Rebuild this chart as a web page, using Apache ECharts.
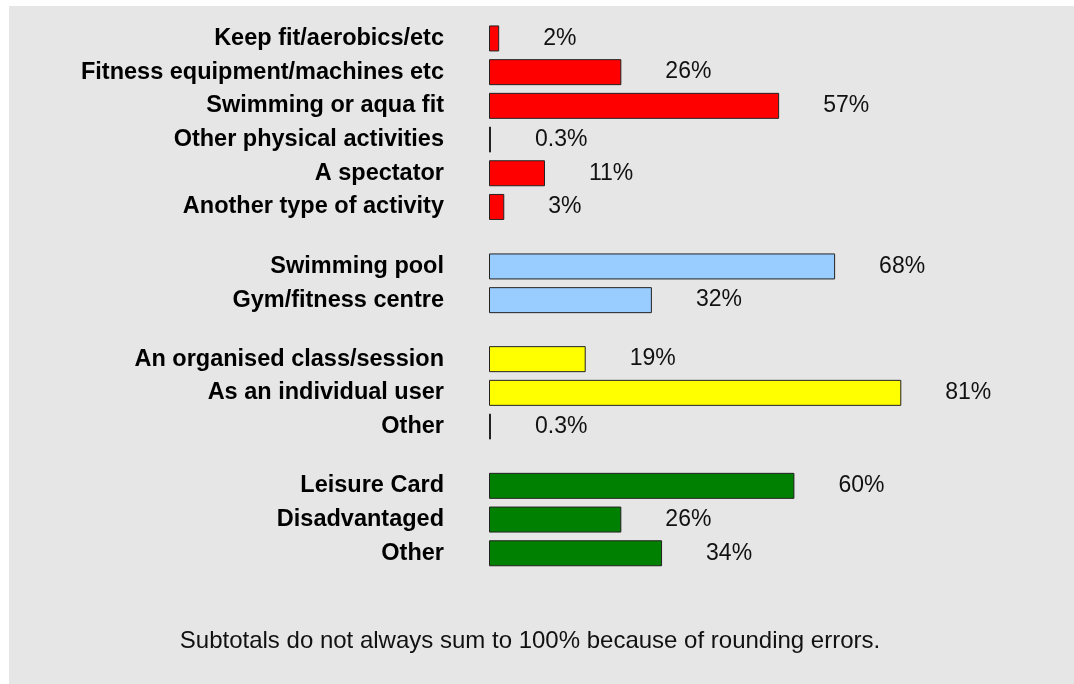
<!DOCTYPE html>
<html>
<head>
<meta charset="utf-8">
<title>Use of facilities</title>
<script src="https://cdn.jsdelivr.net/npm/echarts@6/dist/echarts.min.js"></script>
<style>
  html, body { margin: 0; padding: 0; background: #fff; }
  #chart { width: 1074px; height: 684px; }
</style>
</head>
<body>
<div id="chart"></div>
<script>
// groups of the chart, top to bottom
var activityNames = ['Keep fit/aerobics/etc', 'Fitness equipment/machines etc', 'Swimming or aqua fit', 'Other physical activities', 'A spectator', 'Another type of activity']
var activityValues = [2, 26, 57, 0.3, 11, 3]

var facilityNames = ['Swimming pool', 'Gym/fitness centre']
var facilityValues = [68, 32]

var userNames = ['An organised class/session', 'As an individual user', 'Other']
var userValues = [19, 81, 0.3]

var cardNames = ['Leisure Card', 'Disadvantaged', 'Other']
var cardValues = [60, 26, 34]

var footNote = 'Subtotals do not always sum to 100% because of rounding errors.'

var font = '"Liberation Sans", Arial, Helvetica, sans-serif'

var groups = [
  { names: activityNames, values: activityValues, color: '#FF0000', top: 21.6 },
  { names: facilityNames, values: facilityValues, color: '#99CCFF', top: 249.6 },
  { names: userNames, values: userValues, color: '#FFFF00', top: 342.3 },
  { names: cardNames, values: cardValues, color: '#008000', top: 469 }
]
var rowHeight = 33.7

var chart = echarts.init(document.getElementById('chart'))

var grid = [], xAxis = [], yAxis = [], series = []
groups.forEach(function (g, i) {
  grid.push({
    left: 489,
    right: 76,
    top: g.top,
    height: g.names.length * rowHeight
  })
  xAxis.push({
    type: 'value',
    gridIndex: i,
    min: 0,
    max: 100,
    show: false
  })
  yAxis.push({
    type: 'category',
    gridIndex: i,
    data: g.names,
    inverse: true,
    axisLine: { show: false },
    axisTick: { show: false },
    axisLabel: {
      margin: 45,
      color: '#000',
      fontFamily: font,
      fontWeight: 'bold',
      fontSize: 23.5
    }
  })
  series.push({
    type: 'bar',
    xAxisIndex: i,
    yAxisIndex: i,
    data: g.values,
    barWidth: 26,
    barMinHeight: 2,
    itemStyle: {
      color: g.color,
      borderColor: '#222',
      borderWidth: 1
    },
    label: {
      show: true,
      position: 'right',
      distance: 44,
      color: '#111',
      fontFamily: font,
      fontSize: 23,
      formatter: function (p) { return p.value + '%' }
    },
    silent: true
  })
})

chart.setOption({
  animation: false,
  grid: grid,
  xAxis: xAxis,
  yAxis: yAxis,
  series: series,
  graphic: [
    // grey panel behind the chart
    {
      type: 'rect',
      z: -100,
      silent: true,
      shape: { x: 9, y: 6, width: 1065, height: 678 },
      style: { fill: '#E6E6E6' }
    },
    {
      type: 'text',
      x: 530,
      y: 641,
      style: {
        text: footNote,
        fill: '#111',
        font: '24px ' + font,
        textAlign: 'center',
        textVerticalAlign: 'middle'
      }
    }
  ]
})
</script>
</body>
</html>
